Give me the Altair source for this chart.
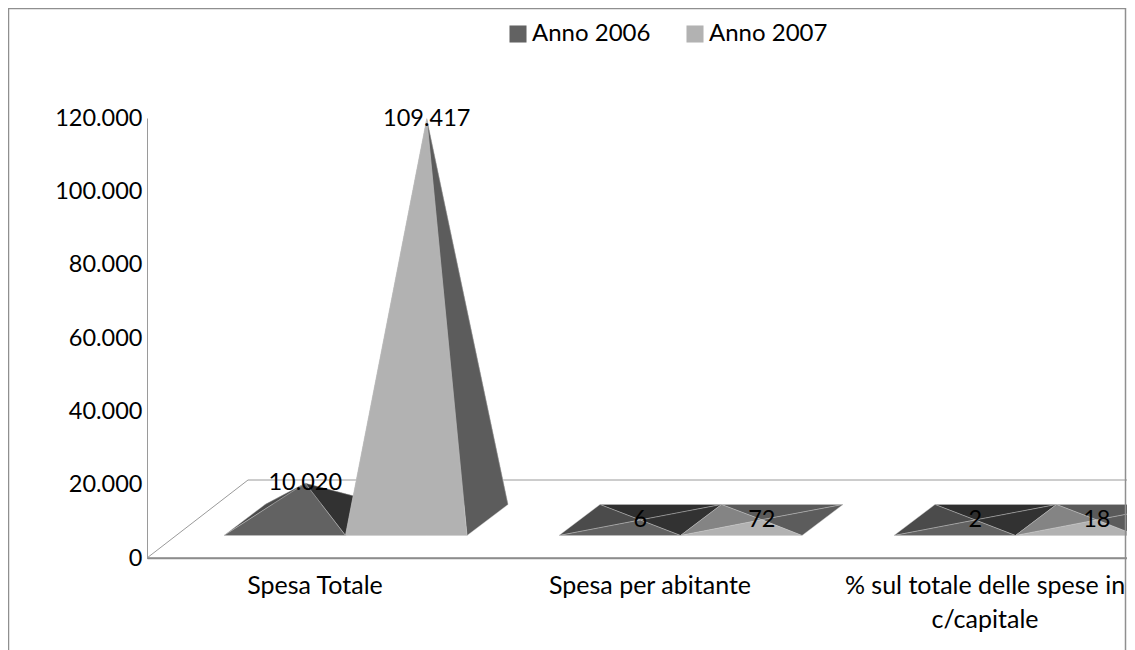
import json
import altair as alt
import pandas as pd

categories = ["Spesa Totale", "Spesa per abitante", "% sul totale delle spese in|c/capitale"]
series_names = ["Anno 2006", "Anno 2007"]
values_2006 = [10020, 6, 2]
values_2007 = [109417, 72, 18]
y_ticks = [0, 20000, 40000, 60000, 80000, 100000, 120000]

FONT = "Lato"
FS_NUM = 23.5
FS_TXT = 25
FS_LEG = 24
PX_X = 1 / 335            # one pixel in category units
PX_Y = 120000 / 440       # one pixel in value units
W, H = 980, 440
X_MAX = W * PX_X

base_left = 77 * PX_X
base_w = 121.5 * PX_X
depth_x = 41 * PX_X
depth_y = 31 * PX_Y
lift = 22.5 * PX_Y
wall_x = 101 * PX_X
wall_y = 78 * PX_Y

palette = {
    0: dict(back="#2f2f2f", left="#4b4b4b", right="#323232", front="#626262"),
    1: dict(back="#5a5a5a", left="#848484", right="#5c5c5c", front="#b2b2b2"),
}


def triangle(face_id, fill, pts):
    pts = sorted(pts)
    (x0, y0), (x1, y1), (x2, y2) = pts
    chord = y0 + (y2 - y0) * (x1 - x0) / (x2 - x0)
    return [
        dict(face=face_id, fill=fill, x=x0, y=y0, y2=y0),
        dict(face=face_id, fill=fill, x=x1, y=y1, y2=chord),
        dict(face=face_id, fill=fill, x=x2, y=y2, y2=y2),
    ]


rows, labels = [], []
fid = 0
for s, vals in enumerate([values_2006, values_2007]):
    for c, v in enumerate(vals):
        fl = (c + base_left + s * base_w, lift)
        fr = (fl[0] + base_w, lift)
        bl = (fl[0] + depth_x, lift + depth_y)
        br = (fr[0] + depth_x, lift + depth_y)
        apex = (fl[0] + (base_w + depth_x) / 2, lift + depth_y / 2 + v)
        cols = palette[s]
        for name, a, b in [("back", bl, br), ("left", fl, bl), ("right", fr, br), ("front", fl, fr)]:
            rows += triangle(fid, cols[name], [a, b, apex])
            fid += 1
        labels.append(dict(x=apex[0], y=apex[1], t=f"{v:,}".replace(",", ".")))

faces = pd.DataFrame(rows)
xs = alt.Scale(domain=[0, X_MAX], nice=False, zero=False)
ys = alt.Scale(domain=[0, 120000], nice=False)

cat_js = json.dumps([c.split("|") for c in categories])

x_axis = alt.Axis(
    values=[0.5, 1.5, 2.5], title=None, grid=False, ticks=False,
    labelExpr=f"{cat_js}[floor(datum.value)]",
    labelFont=FONT, labelFontSize=FS_TXT, labelColor="black", labelPadding=15,
    labelLineHeight=34, labelAngle=0, labelOverlap=False, labelFlush=False,
    labelBound=False, labelLimit=500, domainColor="#8c8c8c", domainWidth=1.5,
)
y_axis = alt.Axis(
    values=y_ticks, title=None, grid=False, ticks=False,
    labelExpr="replace(format(datum.value, ','), ',', '.')",
    labelFont=FONT, labelFontSize=FS_NUM, labelColor="black", labelPadding=5,
    domainColor="#9a9a9a", domainWidth=1,
)

floor_front = alt.Chart(pd.DataFrame({"x": [0, X_MAX], "y": [0, 0]})).mark_line(
    color="#8c8c8c", strokeWidth=1.5
).encode(x=alt.X("x:Q", scale=xs, axis=x_axis), y=alt.Y("y:Q", scale=ys, axis=y_axis))

floor_back = alt.Chart(
    pd.DataFrame({"x": [0, wall_x, X_MAX], "y": [0, wall_y, wall_y]})
).mark_line(color="#9a9a9a", strokeWidth=1).encode(
    x=alt.X("x:Q", scale=xs), y=alt.Y("y:Q", scale=ys)
)

pyramids = alt.Chart(faces).mark_area(
    stroke="#c8c8c8", strokeWidth=0.5, strokeOpacity=0.8
).encode(
    x=alt.X("x:Q", scale=xs),
    y=alt.Y("y:Q", scale=ys),
    y2="y2:Q",
    detail="face:N",
    fill=alt.Fill("fill:N", scale=None),
)

border_color = "#8f8f8f"
border_top = alt.Chart().mark_rule(color=border_color, strokeWidth=1.5).encode(
    x=alt.value(-139), x2=alt.value(978.5), y=alt.value(-109.5))
border_left = alt.Chart().mark_rule(color=border_color, strokeWidth=1.5).encode(
    x=alt.value(-138.5), y=alt.value(-110), y2=alt.value(532))
border_right = alt.Chart().mark_rule(color=border_color, strokeWidth=1.5).encode(
    x=alt.value(978.5), y=alt.value(-110), y2=alt.value(532))

value_labels = alt.Chart(pd.DataFrame(labels)).mark_text(
    font=FONT, fontSize=FS_NUM, color="black", baseline="middle", align="center"
).encode(x=alt.X("x:Q", scale=xs), y=alt.Y("y:Q", scale=ys), text="t:N")

legend = alt.Chart(pd.DataFrame({"s": series_names})).mark_square(size=0, opacity=1).encode(
    x=alt.value(0), y=alt.value(0),
    color=alt.Color(
        "s:N",
        scale=alt.Scale(domain=series_names, range=["#626262", "#b2b2b2"]),
        legend=alt.Legend(
            orient="none", legendX=359, legendY=-96, direction="horizontal", title=None,
            symbolType="square", symbolSize=290, symbolStrokeWidth=0, symbolOpacity=1,
            labelFont=FONT, labelFontSize=FS_LEG, labelColor="black",
            columnPadding=32, labelOffset=2, padding=0,
        ),
    ),
)

chart = alt.layer(
    floor_front, floor_back, pyramids, border_top, border_left, border_right, value_labels, legend
).resolve_scale(x="shared", y="shared").properties(
    width=W, height=H,
    autosize=alt.AutoSizeParams(type="none"),
    padding={"left": 139, "top": 110, "right": 0, "bottom": 92},
    background="white",
).configure_view(stroke=None)

chart.save("out.html", embed_options={"renderer": "svg", "actions": False})
